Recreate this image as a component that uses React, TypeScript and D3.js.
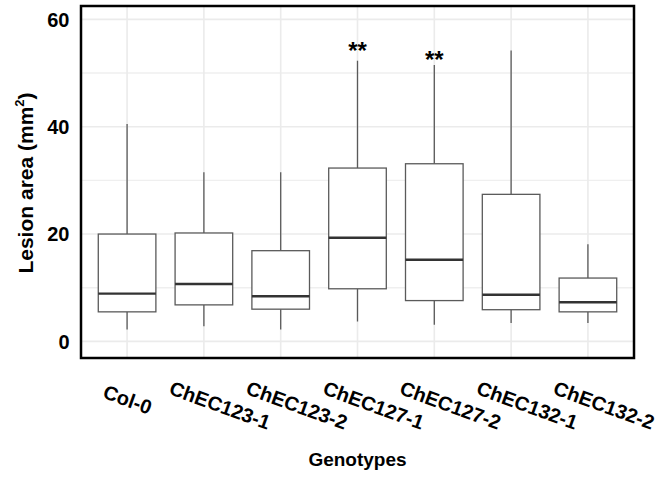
import React from "react";
import * as d3 from "d3";

const categories = ["Col-0", "ChEC123-1", "ChEC123-2", "ChEC127-1", "ChEC127-2", "ChEC132-1", "ChEC132-2"];
const whiskerLow = [2.2, 2.8, 2.2, 3.7, 3.1, 3.4, 3.4];
const q1 = [5.5, 6.8, 6.0, 9.8, 7.6, 5.9, 5.5];
const medians = [8.9, 10.7, 8.4, 19.3, 15.2, 8.7, 7.3];
const q3 = [20.0, 20.2, 16.9, 32.3, 33.1, 27.4, 11.8];
const whiskerHigh = [40.5, 31.5, 31.5, 52.3, 51.5, 54.2, 18.1];
const sigCategories = ["ChEC127-1", "ChEC127-2"];
const sigLabels = ["**", "**"];
const sigY = [52.6, 50.9];
const yMajorTicks = [0, 20, 40, 60];
const yMinorTicks = [10, 30, 50];
const yTitle = "Lesion area (mm";
const xTitle = "Genotypes";

const W = 663;
const H = 477;
const panel = { left: 81, right: 634, top: 6, bottom: 358 };
const FONT = "'Liberation Sans', Arial, Helvetica, sans-serif";
const XLAB_SIZE = 20;

function textWidth(s: string, size: number): number {
  try {
    const ctx = document.createElement("canvas").getContext("2d");
    if (ctx) {
      ctx.font = `bold ${size}px 'Liberation Sans', Arial, sans-serif`;
      return ctx.measureText(s).width;
    }
  } catch (e) {}
  return s.length * size * 0.58;
}

export default function App() {
  const x = d3.scalePoint<string>().domain(categories).range([panel.left, panel.right]).padding(0.6);
  const y = d3.scaleLinear().domain([-3.1, 62.5]).range([panel.bottom, panel.top]);
  const bw = x.step() * 0.75;
  const boxStroke = "#5a5a5a";

  return (
    <svg width={W} height={H} style={{ position: "absolute", left: 0, top: 0, background: "#fff" }} fontFamily={FONT}>
      <rect x={0} y={0} width={W} height={H} fill="#fff" />
      {yMinorTicks.map((t) => (
        <line key={"mn" + t} x1={panel.left} x2={panel.right} y1={y(t)} y2={y(t)} stroke="#efefef" strokeWidth={1.4} />
      ))}
      {yMajorTicks.map((t) => (
        <line key={"mj" + t} x1={panel.left} x2={panel.right} y1={y(t)} y2={y(t)} stroke="#ebebeb" strokeWidth={1.6} />
      ))}
      {categories.map((c) => (
        <line key={"vg" + c} x1={x(c)!} x2={x(c)!} y1={panel.top} y2={panel.bottom} stroke="#ebebeb" strokeWidth={1.6} />
      ))}
      {categories.map((c, i) => {
        const cx = x(c)!;
        return (
          <g key={"b" + c}>
            <line x1={cx} x2={cx} y1={y(whiskerHigh[i])} y2={y(q3[i])} stroke={boxStroke} strokeWidth={1.3} />
            <line x1={cx} x2={cx} y1={y(q1[i])} y2={y(whiskerLow[i])} stroke={boxStroke} strokeWidth={1.3} />
            <rect x={cx - bw / 2} y={y(q3[i])} width={bw} height={y(q1[i]) - y(q3[i])} fill="#fff" stroke={boxStroke} strokeWidth={1.3} />
            <line x1={cx - bw / 2} x2={cx + bw / 2} y1={y(medians[i])} y2={y(medians[i])} stroke="#333" strokeWidth={2.4} />
          </g>
        );
      })}
      {sigCategories.map((c, i) => (
        <text key={"s" + i} x={x(c)!} y={y(sigY[i])} textAnchor="middle" fontSize={24} fontWeight="bold" fill="#000">
          {sigLabels[i]}
        </text>
      ))}
      <rect x={panel.left} y={panel.top} width={panel.right - panel.left} height={panel.bottom - panel.top} fill="none" stroke="#000" strokeWidth={2.5} />
      {yMajorTicks.map((t) => (
        <text key={"yt" + t} x={69.5} y={y(t)} dy="0.36em" textAnchor="end" fontSize={20} fontWeight="bold" fill="#000">
          {t}
        </text>
      ))}
      {categories.map((c) => {
        const len = textWidth(c, XLAB_SIZE);
        return (
          <text
            key={"xt" + c}
            transform={`translate(${x(c)! - 16},401) rotate(20)`}
            x={-0.2 * len}
            textAnchor="start"
            fontSize={XLAB_SIZE}
            fontWeight="bold"
            fill="#000"
          >
            {c}
          </text>
        );
      })}
      <text transform={`translate(33,${(panel.top + panel.bottom) / 2 + 1}) rotate(-90)`} textAnchor="middle" fontSize={21} fontWeight="bold" fill="#000">
        {yTitle}
        <tspan fontSize={13} dy={-9}>2</tspan>
        <tspan dy={9}>)</tspan>
      </text>
      <text x={(panel.left + panel.right) / 2} y={466} textAnchor="middle" fontSize={19} fontWeight="bold" fill="#000">
        {xTitle}
      </text>
    </svg>
  );
}
